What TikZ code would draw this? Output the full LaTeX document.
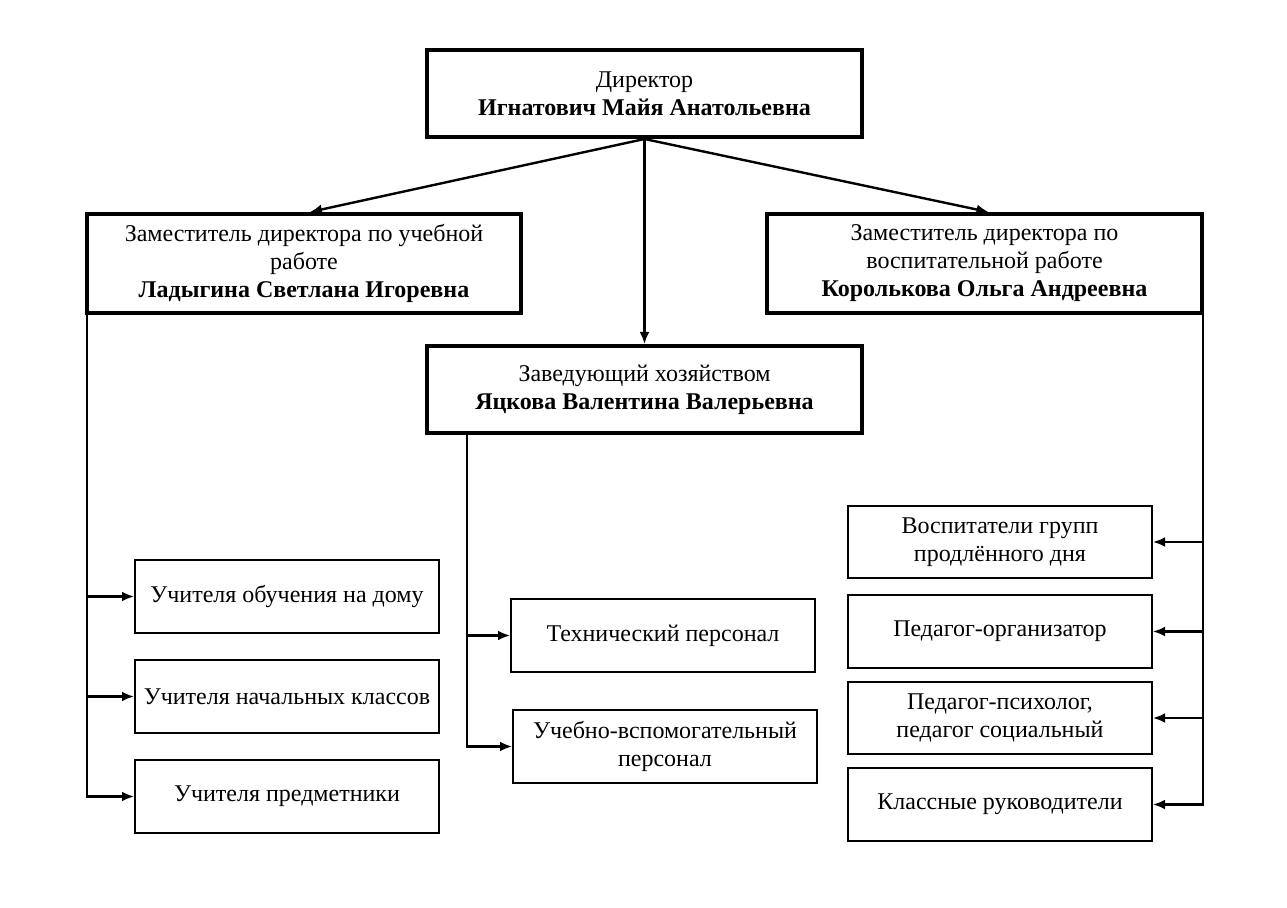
\documentclass[tikz,border=0pt]{standalone}
\usepackage{fontspec}
\setmainfont{Liberation Serif}
\usetikzlibrary{arrows.meta,calc}
\begin{document}
\begin{tikzpicture}[x=0.5pt,y=-0.5pt,
  every node/.style={font=\fontsize{12}{14}\selectfont, align=center, inner sep=0pt},
  bigbox/.style={draw, line width=2pt, minimum width=217.5pt},
  smallbox/.style={draw, line width=1pt, minimum width=152pt, minimum height=36.5pt},
  arr/.style={line width=1.2pt, -{Latex[length=6pt,width=5pt]}}]
\useasboundingbox (0,0) rectangle (1287,908);
% top level
\node[bigbox, minimum height=43.5pt] (dir) at (644.5,93.5) {Директор\\\textbf{Игнатович Майя Анатольевна}};
\node[bigbox, minimum height=49.5pt, minimum width=217pt] (ld) at (304,263.5) {Заместитель директора по учебной\\работе\\\textbf{Ладыгина Светлана Игоревна}};
\node[bigbox, minimum height=49.5pt] (rd) at (984.5,263.5) {Заместитель директора по\\воспитательной работе\\\textbf{Королькова Ольга Андреевна}};
\node[bigbox, minimum height=43.5pt] (zav) at (644.5,389.5) {Заведующий хозяйством\\\textbf{Яцкова Валентина Валерьевна}};
% left column
\node[smallbox] (l1) at (287,596.5) {Учителя обучения на дому};
\node[smallbox] (l2) at (287,696.5) {Учителя начальных классов};
\node[smallbox] (l3) at (287,796.5) {Учителя предметники};
% middle column
\node[smallbox] (m1) at (663,635.5) {Технический персонал};
\node[smallbox] (m2) at (665,746.5) {Учебно-вспомогательный\\персонал};
% right column
\node[smallbox, minimum height=36pt] (r1) at (1000,542) {Воспитатели групп\\продлённого дня};
\node[smallbox] (r2) at (1000,631.5) {Педагог-организатор};
\node[smallbox, minimum height=36pt] (r3) at (1000,718) {Педагог-психолог,\\педагог социальный};
\node[smallbox] (r4) at (1000,804.5) {Классные руководители};
% connectors from director
\draw[arr] (dir.south) -- ($(ld.north)+(6,0)$);
\draw[arr] (dir.south) -- ($(rd.north)+(4,0)$);
\draw[arr] (dir.south) -- (zav.north);
% left trunk
\coordinate (lt) at ($(ld.south west)+(2,0)$);
\draw[arr] (lt) |- (l3.west);
\draw[arr] (lt |- l1.west) -- (l1.west);
\draw[arr] (lt |- l2.west) -- (l2.west);
% middle trunk
\coordinate (mt) at ($(zav.south west)+(42,0)$);
\draw[arr] (mt) |- (m2.west);
\draw[arr] (mt |- m1.west) -- (m1.west);
% right trunk
\coordinate (rt) at ($(rd.south east)+(-1,0)$);
\draw[arr] (rt) |- (r4.east);
\draw[arr] (rt |- r1.east) -- (r1.east);
\draw[arr] (rt |- r2.east) -- (r2.east);
\draw[arr] (rt |- r3.east) -- (r3.east);
\end{tikzpicture}
\end{document}
